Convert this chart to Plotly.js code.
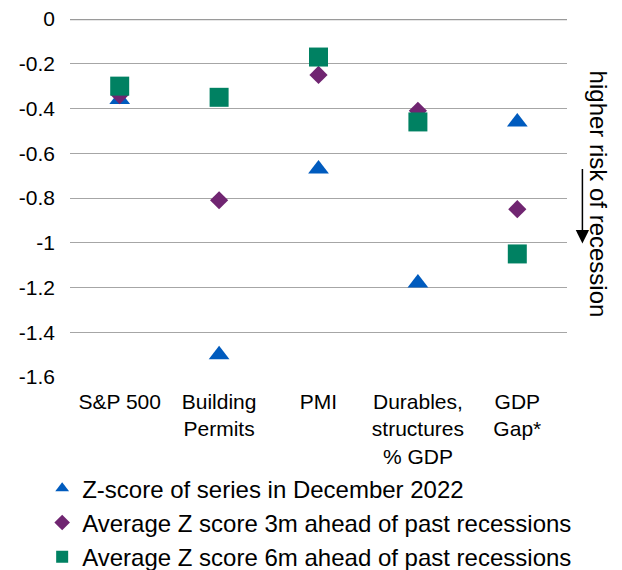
<!DOCTYPE html>
<html>
<head>
<meta charset="utf-8">
<script src="https://cdn.plot.ly/plotly-3.0.1.min.js"></script>
<style>
  html, body { margin: 0; padding: 0; background: #fff; }
  #chart { width: 622px; height: 570px; }
</style>
</head>
<body>
<div id="chart"></div>
<script>
// Recession indicators: current Z-scores vs. averages ahead of past recessions
const categories = ['S&P 500', 'Building<br>Permits', 'PMI', 'Durables,<br>structures<br>% GDP', 'GDP<br>Gap*'];
const zScoreDec2022 = [-0.36, -1.50, -0.67, -1.18, -0.46];
const avg3mAhead = [-0.34, -0.81, -0.25, -0.41, -0.85];
const avg6mAhead = [-0.30, -0.35, -0.17, -0.46, -1.05];

const seriesNames = [
  'Z-score of series in December 2022',
  'Average Z score 3m ahead of past recessions',
  'Average Z score 6m ahead of past recessions'
];

const yTickVals = [0, -0.2, -0.4, -0.6, -0.8, -1, -1.2, -1.4, -1.6];
const yTickText = ['0', '-0.2', '-0.4', '-0.6', '-0.8', '-1', '-1.2', '-1.4', '-1.6'];

const FONT = 'Liberation Sans, Arial, sans-serif';

const traces = [
  {
    x: categories, y: zScoreDec2022, name: seriesNames[0], legendgroup: 'a',
    type: 'scatter', mode: 'markers',
    marker: { symbol: 'triangle-up', size: 18, color: '#005BBE' }
  },
  {
    x: categories, y: avg3mAhead, name: seriesNames[1], legendgroup: 'b',
    type: 'scatter', mode: 'markers',
    marker: { symbol: 'diamond', size: 14, color: '#702571' }
  },
  {
    x: categories, y: avg6mAhead, name: seriesNames[2], legendgroup: 'c',
    type: 'scatter', mode: 'markers',
    marker: { symbol: 'square', size: 19, color: '#008162' }
  }
];

const layout = {
  width: 622,
  height: 570,
  margin: { l: 70, r: 55, t: 19, b: 193, autoexpand: false },
  paper_bgcolor: '#ffffff',
  plot_bgcolor: '#ffffff',
  font: { family: FONT, color: '#000000', size: 21 },
  showlegend: true,
  legend: {
    x: -0.056, xanchor: 'left',
    y: -0.249, yanchor: 'top',
    orientation: 'v',
    itemsizing: 'constant',
    tracegroupgap: 0,
    font: { family: FONT, size: 24, color: '#000000' },
    bgcolor: 'rgba(0,0,0,0)'
  },
  xaxis: {
    type: 'category',
    range: [-0.5, 4.5],
    showgrid: false,
    zeroline: false,
    showline: false,
    ticks: '',
    ticklabelstandoff: 10,
    tickfont: { family: FONT, size: 21, color: '#000000' },
    fixedrange: true
  },
  yaxis: {
    range: [-1.6, 0],
    tickvals: yTickVals,
    ticktext: yTickText,
    showgrid: true,
    gridcolor: '#a6a6a6',
    gridwidth: 1,
    zeroline: false,
    showline: false,
    ticks: '',
    ticklabelstandoff: 14,
    tickfont: { family: FONT, size: 21, color: '#000000' },
    fixedrange: true
  },
  shapes: [
    // heavier baseline at zero
    { type: 'line', xref: 'paper', yref: 'y', x0: 0, x1: 1, y0: 0, y1: 0,
      line: { color: '#9a9a9a', width: 2.5 } }
  ],
  annotations: [
    {
      text: 'higher risk of recession',
      xref: 'paper', yref: 'paper',
      x: 1.064, y: 0.51,
      xanchor: 'center', yanchor: 'middle',
      textangle: 90,
      showarrow: false,
      font: { family: FONT, size: 24, color: '#000000' }
    },
    {
      text: '',
      xref: 'paper', yref: 'paper',
      x: 1.031, y: 0.373,
      showarrow: true,
      ax: 0, ay: -76,
      arrowhead: 2, arrowsize: 1.78, arrowwidth: 1.5,
      arrowcolor: '#000000'
    }
  ]
};

Plotly.newPlot('chart', traces, layout, { displayModeBar: false, staticPlot: true });
</script>
</body>
</html>
